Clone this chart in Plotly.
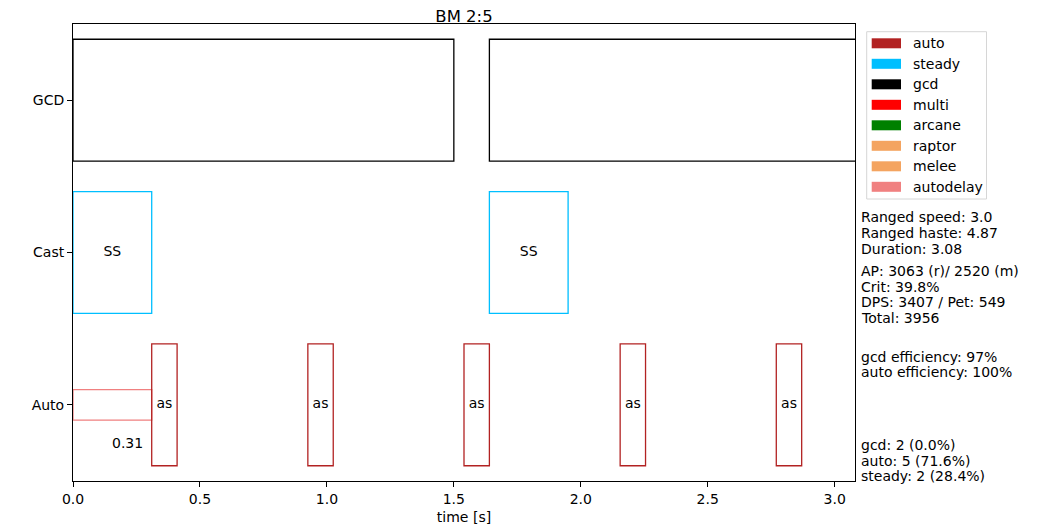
import plotly.graph_objects as go

# ─── DATA ─────────────────────────────────────────────────────
ROW_LABELS = ["Auto", "Cast", "GCD"]
ROW_POS = [0, 1, 2]
DURATION = 3.08

gcd_start = [0.0, 1.64]
gcd_len = [1.5, 1.5]

steady_start = [0.0, 1.64]
steady_len = [0.31, 0.31]
steady_label = ["SS", "SS"]

auto_start = [0.31, 0.925, 1.54, 2.155, 2.77]
auto_len = [0.1, 0.1, 0.1, 0.1, 0.1]
auto_label = ["as", "as", "as", "as", "as"]

autodelay_start = [0.0]
autodelay_len = [0.31]
autodelay_label = ["0.31"]

x_ticks = [0.0, 0.5, 1.0, 1.5, 2.0, 2.5, 3.0]

legend_names = ["auto", "steady", "gcd", "multi", "arcane", "raptor", "melee", "autodelay"]
legend_colors = ["#B22222", "#00BFFF", "#000000", "#FF0000", "#008000", "#F4A460", "#F4A460", "#F08080"]

info_blocks = [
    ["Ranged speed: 3.0", "Ranged haste: 4.87", "Duration: 3.08"],
    ["AP: 3063 (r)/ 2520 (m)", "Crit: 39.8%", "DPS: 3407 / Pet: 549", "Total: 3956"],
    ["gcd efficiency: 97%", "auto efficiency: 100%"],
    ["gcd: 2 (0.0%)", "auto: 5 (71.6%)", "steady: 2 (28.4%)"],
]

# ─── STYLE ────────────────────────────────────────────────────
FONT = "DejaVu Sans"
FS = 14
OFF = 8                       # page body margin
W, H = 1050 - OFF, 525 - OFF
L, R, T, B = 73 - OFF, 195, 24 - OFF, 44
AUTO_C, STEADY_C, GCD_C, DELAY_C = "#B22222", "#00BFFF", "#000000", "#F08080"


def px(x):
    # screen x of the reference -> paper coordinate
    return (x - OFF - L) / (W - L - R)


def py(y):
    return (H - B - (y - OFF)) / (H - T - B)


def boxes(start, length, row, color, width=0.8):
    return go.Bar(
        orientation="h",
        base=start,
        x=length,
        y=[row] * len(start),
        width=width,
        marker=dict(color="rgba(0,0,0,0)", line=dict(color=color, width=1.3)),
        showlegend=False,
        hoverinfo="skip",
    )


def labels(start, length, row, text):
    return go.Scatter(
        x=[s + l / 2 for s, l in zip(start, length)],
        y=[row] * len(start),
        text=text,
        mode="text",
        textfont=dict(family=FONT, size=FS, color="black"),
        showlegend=False,
        hoverinfo="skip",
    )


fig = go.Figure()
fig.add_trace(boxes(gcd_start, gcd_len, 2, GCD_C))
fig.add_trace(boxes(steady_start, steady_len, 1, STEADY_C))
fig.add_trace(boxes(autodelay_start, autodelay_len, 0, DELAY_C, width=0.2))
fig.add_trace(boxes(auto_start, auto_len, 0, AUTO_C))
fig.add_trace(labels(steady_start, steady_len, 1, steady_label))
fig.add_trace(labels(auto_start, auto_len, 0, auto_label))

annotations = []
# delay value below the delay bar
for s, l, t in zip(autodelay_start, autodelay_len, autodelay_label):
    annotations.append(dict(
        x=s + l - 0.025, y=-0.25, xref="x", yref="y", text=t, showarrow=False,
        xanchor="right", yanchor="middle", font=dict(family=FONT, size=FS, color="black"),
    ))

# stats text on the right
block_top = [217.3, 271.0, 356.7, 445.0]
LINE_PX = 15.7
for top, lines in zip(block_top, info_blocks):
    for i, line in enumerate(lines):
        annotations.append(dict(
            x=px(858.5), y=py(top + i * LINE_PX), xref="paper", yref="paper",
            text=line, showarrow=False, xanchor="left", yanchor="middle",
            font=dict(family=FONT, size=FS, color="black"),
        ))

# legend (matplotlib-style patches)
shapes = [dict(
    type="rect", xref="paper", yref="paper",
    x0=px(866.7), x1=px(986.5), y0=py(199), y1=py(31.7),
    line=dict(color="#d6d6d6", width=1), fillcolor="white", layer="above",
)]
for i, (name, c) in enumerate(zip(legend_names, legend_colors)):
    yc = 43.3 + i * 20.5
    shapes.append(dict(
        type="rect", xref="paper", yref="paper",
        x0=px(871.7), x1=px(901), y0=py(yc + 5), y1=py(yc - 5),
        line=dict(width=0), fillcolor=c, layer="above",
    ))
    annotations.append(dict(
        x=px(910.5), y=py(yc), xref="paper", yref="paper", text=name, showarrow=False,
        xanchor="left", yanchor="middle", font=dict(family=FONT, size=FS, color="black"),
    ))

axis_common = dict(
    showline=True, mirror=True, linecolor="black", linewidth=1,
    ticks="outside", ticklen=5, tickcolor="black", showgrid=False, zeroline=False,
    tickfont=dict(family=FONT, size=FS, color="black"),
)

fig.update_layout(
    width=W, height=H,
    paper_bgcolor="white", plot_bgcolor="white",
    font=dict(family=FONT, size=FS, color="black"),
    margin=dict(l=L, r=R, t=T, b=B, autoexpand=False),
    barmode="overlay",
    showlegend=False,
    title=dict(text="BM 2:5", x=px(464), y=1, xanchor="center", yanchor="top",
               xref="paper", yref="container", pad=dict(t=2),
               font=dict(family=FONT, size=16.5, color="black")),
    xaxis=dict(**axis_common, range=[0, DURATION], tickvals=x_ticks,
               ticktext=[f"{v:.1f}" for v in x_ticks],
               title=dict(text="time [s]", standoff=8, font=dict(family=FONT, size=FS, color="black"))),
    yaxis=dict(**axis_common, range=[-0.5, 2.5], tickvals=ROW_POS, ticktext=ROW_LABELS),
    shapes=shapes,
    annotations=annotations,
)

fig.write_html("out.html")
